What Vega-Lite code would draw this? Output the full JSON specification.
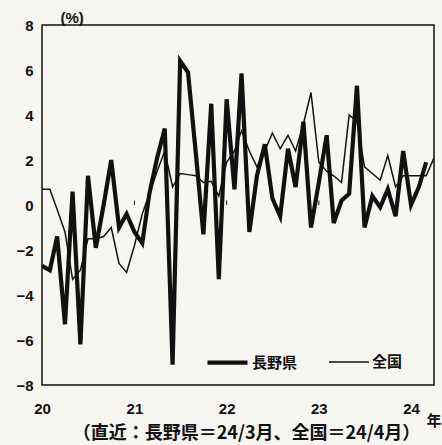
{
  "$schema": "https://vega.github.io/schema/vega-lite/v6.json",
  "width": 392,
  "height": 360,
  "autosize": {"type": "none"},
  "padding": {"left": 42, "top": 25, "right": 8, "bottom": 60},
  "background": "#f7f6f1",
  "config": {
    "view": {"stroke": "#111", "strokeWidth": 1.5},
    "axis": {"labelFont": "Liberation Sans", "labelFontWeight": "bold", "labelFontSize": 15, "labelColor": "#111", "titleColor": "#111", "grid": false, "domain": false, "tickColor": "#111"}
  },
  "datasets": {
    "main": [
      {"d": "2020-01-01", "s": "長野県", "v": -2.7}, {"d": "2020-02-01", "s": "長野県", "v": -2.9}, {"d": "2020-03-01", "s": "長野県", "v": -1.4}, {"d": "2020-04-01", "s": "長野県", "v": -5.3},
      {"d": "2020-05-01", "s": "長野県", "v": 0.6}, {"d": "2020-06-01", "s": "長野県", "v": -6.2}, {"d": "2020-07-01", "s": "長野県", "v": 1.3}, {"d": "2020-08-01", "s": "長野県", "v": -1.9},
      {"d": "2020-09-01", "s": "長野県", "v": 0.0}, {"d": "2020-10-01", "s": "長野県", "v": 2.0}, {"d": "2020-11-01", "s": "長野県", "v": -1.0}, {"d": "2020-12-01", "s": "長野県", "v": -0.4},
      {"d": "2021-01-01", "s": "長野県", "v": -1.2}, {"d": "2021-02-01", "s": "長野県", "v": -1.7}, {"d": "2021-03-01", "s": "長野県", "v": 0.5}, {"d": "2021-04-01", "s": "長野県", "v": 2.1},
      {"d": "2021-05-01", "s": "長野県", "v": 3.4}, {"d": "2021-06-01", "s": "長野県", "v": -7.1}, {"d": "2021-07-01", "s": "長野県", "v": 6.4}, {"d": "2021-08-01", "s": "長野県", "v": 5.9},
      {"d": "2021-09-01", "s": "長野県", "v": 2.3}, {"d": "2021-10-01", "s": "長野県", "v": -1.3}, {"d": "2021-11-01", "s": "長野県", "v": 4.5}, {"d": "2021-12-01", "s": "長野県", "v": -3.3},
      {"d": "2022-01-01", "s": "長野県", "v": 4.7}, {"d": "2022-02-01", "s": "長野県", "v": 0.7}, {"d": "2022-03-01", "s": "長野県", "v": 5.85}, {"d": "2022-04-01", "s": "長野県", "v": -1.2},
      {"d": "2022-05-01", "s": "長野県", "v": 1.3}, {"d": "2022-06-01", "s": "長野県", "v": 2.7}, {"d": "2022-07-01", "s": "長野県", "v": 0.3}, {"d": "2022-08-01", "s": "長野県", "v": -0.5},
      {"d": "2022-09-01", "s": "長野県", "v": 2.5}, {"d": "2022-10-01", "s": "長野県", "v": 0.8}, {"d": "2022-11-01", "s": "長野県", "v": 3.7}, {"d": "2022-12-01", "s": "長野県", "v": -1.0},
      {"d": "2023-01-01", "s": "長野県", "v": 1.0}, {"d": "2023-02-01", "s": "長野県", "v": 3.1}, {"d": "2023-03-01", "s": "長野県", "v": -0.8}, {"d": "2023-04-01", "s": "長野県", "v": 0.2},
      {"d": "2023-05-01", "s": "長野県", "v": 0.5}, {"d": "2023-06-01", "s": "長野県", "v": 5.3}, {"d": "2023-07-01", "s": "長野県", "v": -1.0}, {"d": "2023-08-01", "s": "長野県", "v": 0.4},
      {"d": "2023-09-01", "s": "長野県", "v": -0.1}, {"d": "2023-10-01", "s": "長野県", "v": 0.7}, {"d": "2023-11-01", "s": "長野県", "v": -0.5}, {"d": "2023-12-01", "s": "長野県", "v": 2.4},
      {"d": "2024-01-01", "s": "長野県", "v": 0.0}, {"d": "2024-02-01", "s": "長野県", "v": 0.8}, {"d": "2024-03-01", "s": "長野県", "v": 1.9},
      {"d": "2020-01-01", "s": "全国", "v": 0.7}, {"d": "2020-02-01", "s": "全国", "v": 0.7}, {"d": "2020-03-01", "s": "全国", "v": -0.2}, {"d": "2020-04-01", "s": "全国", "v": -1.2},
      {"d": "2020-05-01", "s": "全国", "v": -3.3}, {"d": "2020-06-01", "s": "全国", "v": -2.9}, {"d": "2020-07-01", "s": "全国", "v": -1.5}, {"d": "2020-08-01", "s": "全国", "v": -1.5},
      {"d": "2020-09-01", "s": "全国", "v": -1.4}, {"d": "2020-10-01", "s": "全国", "v": -1.0}, {"d": "2020-11-01", "s": "全国", "v": -2.6}, {"d": "2020-12-01", "s": "全国", "v": -3.0},
      {"d": "2021-01-01", "s": "全国", "v": -1.8}, {"d": "2021-02-01", "s": "全国", "v": -0.4}, {"d": "2021-03-01", "s": "全国", "v": 0.5}, {"d": "2021-04-01", "s": "全国", "v": 1.5},
      {"d": "2021-05-01", "s": "全国", "v": 2.4}, {"d": "2021-06-01", "s": "全国", "v": 0.8}, {"d": "2021-07-01", "s": "全国", "v": 1.4}, {"d": "2021-08-01", "s": "全国", "v": 1.35},
      {"d": "2021-09-01", "s": "全国", "v": 1.3}, {"d": "2021-10-01", "s": "全国", "v": 1.0}, {"d": "2021-11-01", "s": "全国", "v": 1.05}, {"d": "2021-12-01", "s": "全国", "v": 0.4},
      {"d": "2022-01-01", "s": "全国", "v": 1.9}, {"d": "2022-02-01", "s": "全国", "v": 2.4}, {"d": "2022-03-01", "s": "全国", "v": 3.3}, {"d": "2022-04-01", "s": "全国", "v": 2.4},
      {"d": "2022-05-01", "s": "全国", "v": 1.7}, {"d": "2022-06-01", "s": "全国", "v": 2.4}, {"d": "2022-07-01", "s": "全国", "v": 3.2}, {"d": "2022-08-01", "s": "全国", "v": 2.5},
      {"d": "2022-09-01", "s": "全国", "v": 3.1}, {"d": "2022-10-01", "s": "全国", "v": 2.4}, {"d": "2022-11-01", "s": "全国", "v": 3.6}, {"d": "2022-12-01", "s": "全国", "v": 5.0},
      {"d": "2023-01-01", "s": "全国", "v": 1.9}, {"d": "2023-02-01", "s": "全国", "v": 1.5}, {"d": "2023-03-01", "s": "全国", "v": 1.3}, {"d": "2023-04-01", "s": "全国", "v": 1.0},
      {"d": "2023-05-01", "s": "全国", "v": 4.0}, {"d": "2023-06-01", "s": "全国", "v": 3.7}, {"d": "2023-07-01", "s": "全国", "v": 1.7}, {"d": "2023-08-01", "s": "全国", "v": 1.4},
      {"d": "2023-09-01", "s": "全国", "v": 1.1}, {"d": "2023-10-01", "s": "全国", "v": 2.2}, {"d": "2023-11-01", "s": "全国", "v": 0.8}, {"d": "2023-12-01", "s": "全国", "v": 1.3},
      {"d": "2024-01-01", "s": "全国", "v": 1.3}, {"d": "2024-02-01", "s": "全国", "v": 1.3}, {"d": "2024-03-01", "s": "全国", "v": 1.3}, {"d": "2024-04-01", "s": "全国", "v": 2.1}
    ],
    "years": [{"d": "2021-01-01"}, {"d": "2022-01-01"}, {"d": "2023-01-01"}, {"d": "2024-01-01"}],
    "unit": [{"d": "2024-04-01", "v": -9.6, "t": "年"}]
  },
  "layer": [
    {
      "mark": {"type": "rule", "color": "#111", "strokeWidth": 1},
      "encoding": {"y": {"datum": 0, "type": "quantitative"}}
    },
    {
      "data": {"name": "years"},
      "mark": {"type": "rule", "color": "#111", "strokeWidth": 1},
      "encoding": {
        "x": {"field": "d", "type": "temporal"},
        "y": {"datum": 0, "type": "quantitative"},
        "y2": {"datum": 0.2}
      }
    },
    {
      "data": {"name": "main"},
      "mark": {"type": "line", "color": "#111", "strokeJoin": "miter", "clip": true},
      "encoding": {
        "x": {"field": "d", "type": "temporal",
          "scale": {"type": "utc", "domain": [{"year": 2020, "month": 1, "date": 1, "utc": true}, {"year": 2024, "month": 4, "date": 1, "utc": true}]},
          "axis": {"orient": "bottom", "format": "%y", "ticks": false, "labelFlush": false, "labelPadding": 16, "tickCount": {"interval": "year", "step": 1},
            "title": "（直近：長野県＝24/3月、全国＝24/4月）", "titleFont": "Noto Sans CJK JP", "titleFontWeight": "bold", "titleFontSize": 18, "titleBaseline": "middle", "titleY": 48, "titleX": 204}},
        "y": {"field": "v", "type": "quantitative",
          "scale": {"domain": [-8, 8]},
          "axis": {"values": [-8, -6, -4, -2, 0, 2, 4, 6, 8], "ticks": false, "labelPadding": 9,
            "title": "(%)", "titleAngle": 0, "titleAlign": "left", "titleBaseline": "middle", "titleX": 18, "titleY": -8, "titleFont": "Liberation Sans", "titleFontWeight": "bold", "titleFontSize": 15}},
        "strokeWidth": {"field": "s", "type": "ordinal",
          "scale": {"domain": ["長野県", "全国"], "range": [4.2, 1.5]},
          "legend": {"title": null, "orient": "none", "legendX": 163, "legendY": 315, "direction": "horizontal", "symbolType": "stroke", "symbolSize": 1600, "symbolStrokeColor": "#111", "labelFont": "Noto Sans CJK JP", "labelFontWeight": "bold", "labelFontSize": 15, "labelColor": "#111", "labelOffset": 2, "columnPadding": 28}}
      }
    },
    {
      "data": {"name": "unit"},
      "mark": {"type": "text", "font": "Noto Sans CJK JP", "fontWeight": "bold", "fontSize": 15, "color": "#111", "align": "center", "baseline": "middle", "clip": false},
      "encoding": {
        "x": {"field": "d", "type": "temporal"},
        "y": {"field": "v", "type": "quantitative"},
        "text": {"field": "t"}
      }
    }
  ]
}
